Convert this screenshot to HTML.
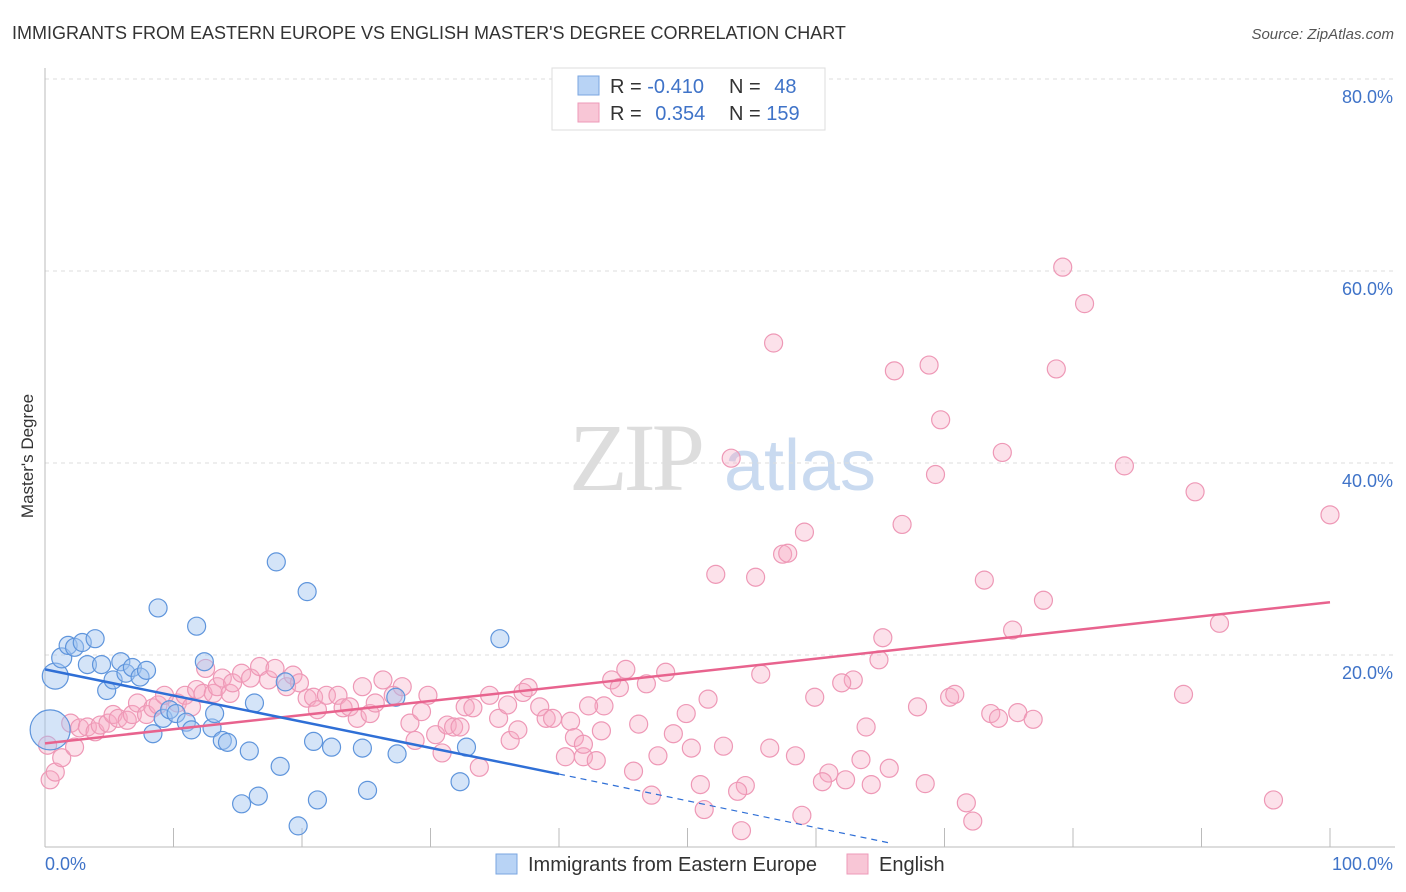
<!DOCTYPE html>
<html><head><meta charset="utf-8"><style>
body{margin:0;background:#fff;font-family:"Liberation Sans",sans-serif;}
svg{display:block}
</style></head><body>
<svg id="chart" width="1406" height="892" viewBox="0 0 1406 892" xmlns="http://www.w3.org/2000/svg">
<text x="12" y="39" font-size="18" fill="#333">IMMIGRANTS FROM EASTERN EUROPE VS ENGLISH MASTER'S DEGREE CORRELATION CHART</text>
<text x="1394" y="39" font-size="15" fill="#555" font-style="italic" text-anchor="end">Source: ZipAtlas.com</text>
<text x="33" y="456" font-size="17" fill="#333" text-anchor="middle" transform="rotate(-90 33 456)">Master's Degree</text>
<g>
<text x="635" y="490" font-size="96" fill="#ddd" font-family="Liberation Serif,serif" text-anchor="middle" letter-spacing="-4">ZIP</text>
<text x="800" y="490" font-size="72" fill="#c9daf0" text-anchor="middle">atlas</text>
</g>
<g id="grid"></g>
<g id="axes"></g>
<g id="pinkPts"></g>
<g id="bluePts"></g>
<g id="trends"></g>
<g>
<rect x="552" y="68" width="273" height="62" fill="#fff" stroke="#ddd"/>
<rect x="578" y="76" width="21" height="19" fill="#b8d3f5" stroke="#7aa6e0"/>
<rect x="578" y="103" width="21" height="19" fill="#f8c6d6" stroke="#ee9ab8"/>
<text x="610" y="93" font-size="20" fill="#333">R = <tspan fill="#3f73c8">-0.410</tspan></text>
<text x="729" y="93" font-size="20" fill="#333">N = <tspan fill="#3f73c8" dx="8">48</tspan></text>
<text x="610" y="120" font-size="20" fill="#333">R = <tspan fill="#3f73c8" dx="8">0.354</tspan></text>
<text x="729" y="120" font-size="20" fill="#333">N = <tspan fill="#3f73c8">159</tspan></text>
</g>
<g>
<rect x="496" y="854" width="21" height="20" fill="#b8d3f5" stroke="#7aa6e0"/>
<text x="528" y="871" font-size="20" fill="#333">Immigrants from Eastern Europe</text>
<rect x="847" y="854" width="21" height="20" fill="#f8c6d6" stroke="#ee9ab8"/>
<text x="879" y="871" font-size="20" fill="#333">English</text>
</g>
</svg>
<script>
const blueX=[0.4,0.8,1.3,1.8,2.3,2.9,3.9,3.3,4.4,4.8,5.3,5.9,6.3,6.8,7.4,7.9,8.8,8.4,9.2,9.7,10.2,11.0,11.4,11.8,12.4,13.0,13.2,13.8,14.2,15.3,15.9,16.3,16.6,18.0,18.3,18.7,19.7,20.4,20.9,21.2,22.3,24.7,25.1,27.3,27.4,32.3,32.8,35.4];
const blueY=[12.2,17.8,19.7,21.0,20.8,21.3,21.7,19.0,19.0,16.3,17.4,19.3,18.1,18.7,17.7,18.4,24.9,11.8,13.4,14.3,13.9,13.0,12.2,23.0,19.3,12.4,13.9,11.1,10.9,4.5,10.0,15.0,5.3,29.7,8.4,17.2,2.2,26.6,11.0,4.9,10.4,10.3,5.9,15.6,9.7,6.8,10.4,21.7];
const blueR=[20,13,10,9,9,9,9,9,9,9,9,9,9,9,9,9,9,9,9,9,9,9,9,9,9,9,9,9,9,9,9,9,9,9,9,9,9,9,9,9,9,9,9,9,9,9,9,9];
const pinkX=[79.2,80.9,56.7,66.1,68.8,78.7,69.7,53.4,74.5,84.0,69.3,89.5,100,66.7,59.1,57.4,57.8,52.2,55.3,73.1,77.7,91.4,75.3,65.2,64.9,45.2,48.3,55.7,44.1,44.7,46.8,62.9,62.0,59.9,51.6,70.4,70.8,88.6,67.9,73.6,74.2,75.7,76.9,49.9,43.5,42.3,46.2,63.9,48.9,43.3,40.9,41.2,47.7,50.3,52.8,56.4,58.4,63.5,65.7,61.0,60.5,62.3,64.3,68.5,51.0,54.5,53.9,47.2,45.8,40.5,41.9,42.9,51.3,54.2,58.9,71.7,72.2,95.6,
0.4,0.8,1.3,2.3,2.0,2.7,3.3,3.9,4.3,4.9,5.3,5.7,6.4,6.8,7.2,7.9,8.4,8.8,9.3,10.3,10.9,11.4,11.8,12.3,13.1,13.4,13.8,14.4,14.6,15.3,16.0,16.7,17.4,17.9,18.8,19.3,19.8,20.4,20.9,21.2,21.9,22.8,23.2,23.7,24.3,24.7,25.3,25.7,26.3,27.1,27.8,28.4,28.8,29.3,29.8,30.4,30.9,31.3,31.8,32.3,32.7,33.3,33.8,34.6,35.3,36.0,36.2,36.8,37.2,37.6,38.5,39.0,39.5,41.9,0.2,12.5];
const pinkY=[60.4,56.6,52.5,49.6,50.2,49.8,44.5,40.5,41.1,39.7,38.8,37.0,34.6,33.6,32.8,30.5,30.6,28.4,28.1,27.8,25.7,23.3,22.6,21.8,19.5,18.5,18.2,18.0,17.4,16.6,17.0,17.4,17.1,15.6,15.4,15.6,15.9,15.9,14.6,13.9,13.4,14.0,13.3,13.9,14.7,14.7,12.8,12.5,11.8,12.1,13.1,11.4,9.5,10.3,10.5,10.3,9.5,9.1,8.2,7.7,6.8,7.0,6.5,6.6,6.5,6.4,5.8,5.4,7.9,9.4,9.4,9.0,3.9,1.7,3.3,4.6,2.7,4.9,
7.0,7.8,9.3,10.4,12.9,12.4,12.5,12.0,12.7,12.9,13.8,13.4,13.2,13.8,15.0,13.8,14.5,14.8,15.8,15.0,15.8,14.6,16.4,16.0,16.0,16.7,17.6,16.0,17.1,18.1,17.6,18.8,17.4,18.6,16.7,17.9,17.1,15.5,15.6,14.3,15.8,15.8,14.5,14.6,13.4,16.7,13.9,15.0,17.4,15.8,16.7,12.9,11.1,14.1,15.8,11.7,9.8,12.7,12.5,12.5,14.6,14.5,8.3,15.8,13.4,14.8,11.1,12.2,16.1,16.6,14.6,13.4,13.4,10.7,10.6,18.6];
const blueTrend=[[0,18.5],[40,7.6]];
const blueDash=[[40,7.6],[65.8,0.4]];
const pinkTrend=[[0,10.8],[100,25.5]];
const yTicks=[20,40,60,80];
const yTickLabels=["20.0%","40.0%","60.0%","80.0%"];
const xTicks=[0,10,20,30,40,50,60,70,80,90,100];

const X0=45,X1=1330,Y0=847,YPX=9.6;
const sx=v=>X0+(X1-X0)*v/100;
const sy=v=>Y0-v*YPX;
const NS="http://www.w3.org/2000/svg";
function mk(tag,attrs,parent){const e=document.createElementNS(NS,tag);for(const k in attrs)e.setAttribute(k,attrs[k]);parent.appendChild(e);return e;}
const grid=document.getElementById('grid'),axes=document.getElementById('axes');
yTicks.forEach((t,i)=>{
  const l=mk('line',{x1:X0,x2:1395,y1:sy(t),y2:sy(t),stroke:'#ddd','stroke-dasharray':'4,4'},grid);
  
  
  const tx=mk('text',{x:1393,y:sy(t)+24,'font-size':18,fill:'#3f73c8','text-anchor':'end'},axes);
  tx.textContent=yTickLabels[i];
  
  
});
mk('line',{x1:X0,x2:X0,y1:68,y2:Y0,stroke:'#bbb'},axes);
mk('line',{x1:X0,x2:1395,y1:Y0,y2:Y0,stroke:'#bbb'},axes);
xTicks.forEach(t=>{
  const l=mk('line',{x1:sx(t),x2:sx(t),y1:828,y2:Y0,stroke:'#bbb'},axes);
  
  
});
const x0l=mk('text',{x:45,y:870,'font-size':18,fill:'#3f73c8'},axes);x0l.textContent='0.0%';


const x1l=mk('text',{x:1393,y:870,'font-size':18,fill:'#3f73c8','text-anchor':'end'},axes);x1l.textContent='100.0%';


const pg=document.getElementById('pinkPts');
pinkX.forEach((v,i)=>{
  const c=mk('circle',{cx:sx(v),cy:sy(pinkY[i]),r:9,fill:'rgba(246,170,196,0.35)',stroke:'#ee98b6','stroke-width':1.2},pg);
  
  
});
const bg=document.getElementById('bluePts');
blueX.forEach((v,i)=>{
  const c=mk('circle',{cx:sx(v),cy:sy(blueY[i]),r:blueR[i],fill:'rgba(160,196,240,0.45)',stroke:'#5f95dc','stroke-width':1.2},bg);
  
  
});
const tg=document.getElementById('trends');
const p=mk('line',{x1:sx(pinkTrend[0][0]),y1:sy(pinkTrend[0][1]),x2:sx(pinkTrend[1][0]),y2:sy(pinkTrend[1][1]),stroke:'#e8638e','stroke-width':2.5},tg);


const b=mk('line',{x1:sx(blueTrend[0][0]),y1:sy(blueTrend[0][1]),x2:sx(blueTrend[1][0]),y2:sy(blueTrend[1][1]),stroke:'#2f6fd6','stroke-width':2.5},tg);


const bd=mk('line',{x1:sx(blueDash[0][0]),y1:sy(blueDash[0][1]),x2:sx(blueDash[1][0]),y2:sy(blueDash[1][1]),stroke:'#2f6fd6','stroke-width':1.2,'stroke-dasharray':'6,5'},tg);


</script>
</body></html>
